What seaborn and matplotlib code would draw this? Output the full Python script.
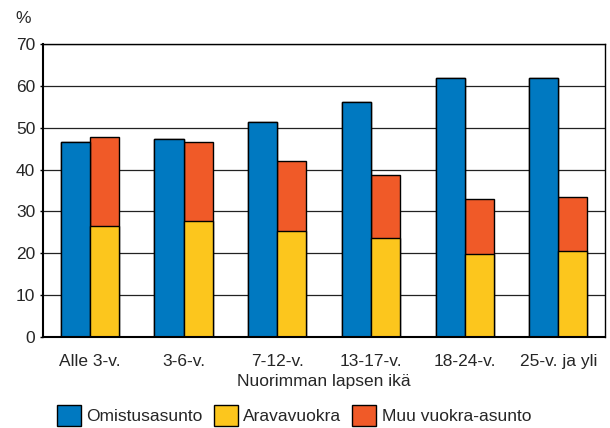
import pandas as pd
import seaborn as sns
import matplotlib.pyplot as plt
from matplotlib.patches import Patch

ages = ['Alle 3-v.', '3-6-v.', '7-12-v.', '13-17-v.', '18-24-v.', '25-v. ja yli']
omistus = [46.7, 47.2, 51.4, 56.2, 62.0, 62.0]
arava = [26.5, 27.8, 25.4, 23.6, 19.8, 20.5]
muu_vuokra = [21.4, 18.8, 16.6, 15.1, 13.2, 12.9]

blue = '#0079c1'
yellow = '#fcc61d'
orange = '#f05a28'

vuokra_yht = [a + m for a, m in zip(arava, muu_vuokra)]

df_top = pd.DataFrame({
    'ika': ages * 2,
    'laji': ['omistus'] * 6 + ['vuokra'] * 6,
    'arvo': omistus + vuokra_yht,
})
df_low = pd.DataFrame({
    'ika': ages * 2,
    'laji': ['omistus'] * 6 + ['vuokra'] * 6,
    'arvo': omistus + arava,
})

sns.set_style('white')
plt.rcParams['font.family'] = ['Liberation Sans', 'DejaVu Sans']
fs = 12.5

fig = plt.figure(figsize=(6.1, 4.28), dpi=100)
ax = fig.add_axes([0.0705, 0.2126, 0.9215, 0.6844])

sns.barplot(data=df_top, x='ika', y='arvo', hue='laji', order=ages,
            palette={'omistus': blue, 'vuokra': orange}, width=0.62,
            edgecolor='black', linewidth=1, saturation=1, legend=False, ax=ax)
sns.barplot(data=df_low, x='ika', y='arvo', hue='laji', order=ages,
            palette={'omistus': blue, 'vuokra': yellow}, width=0.62,
            edgecolor='black', linewidth=1, saturation=1, legend=False, ax=ax)

ax.set_ylim(0, 70)
ax.set_xlim(-0.5, 5.5)
ax.set_yticks(range(0, 71, 10))
ax.yaxis.grid(True, color='#222222', lw=0.9)
ax.set_axisbelow(True)
for s in ax.spines.values():
    s.set_visible(True)
    s.set_color('black')
    s.set_linewidth(1)
ax.spines['bottom'].set_linewidth(1.5)
ax.spines['left'].set_linewidth(1.5)
ax.tick_params(axis='y', left=True, length=2.5, width=1, labelsize=fs, pad=3, color='black')
ax.tick_params(axis='x', bottom=False, labelsize=fs, pad=9)
ax.set_ylabel('')
ax.set_xlabel('Nuorimman lapsen ikä', fontsize=fs, labelpad=3)

fig.text(0.026, 0.956, '%', fontsize=fs, va='center')

handles = [Patch(facecolor=c, edgecolor='black', linewidth=1) for c in (blue, yellow, orange)]
fig.legend(handles, ['Omistusasunto', 'Aravavuokra', 'Muu vuokra-asunto'],
           loc='upper left', bbox_to_anchor=(57 / 610, 1 - 405 / 428), ncol=3,
           frameon=False, borderpad=0, borderaxespad=0,
           fontsize=fs, handlelength=1.38, handleheight=1.45, handletextpad=0.3,
           columnspacing=0.65)

fig.savefig('out.png', dpi=100)
